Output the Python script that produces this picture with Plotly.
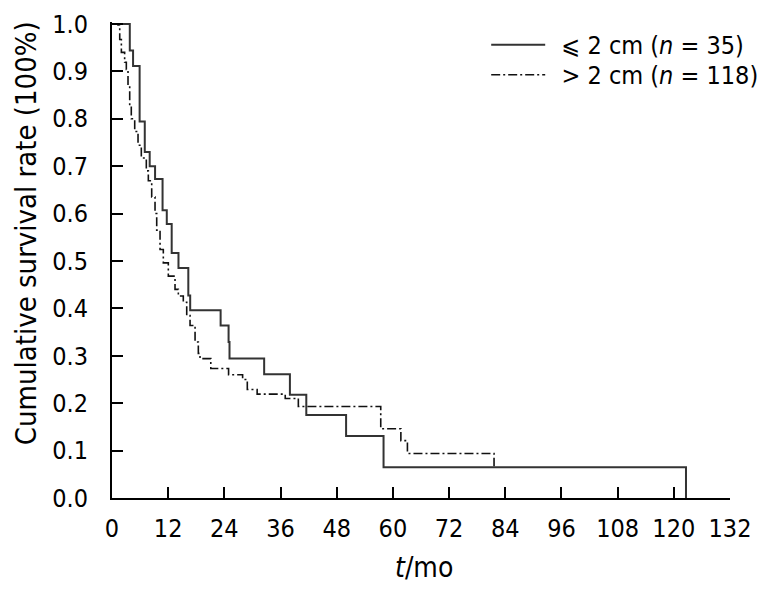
import plotly.graph_objects as go

# <= 2 cm group (n = 35): event times (months) and survival after each step
small_t = [0, 3.8, 4.5, 5.9, 7.0, 8.05, 9.2, 10.8, 11.7, 12.75, 14.2, 16.3, 16.7,
           23.2, 24.9, 25.1, 32.5, 38.0, 41.5, 50.0, 58.0, 122.6]
small_s = [1.0, 0.944, 0.911, 0.794, 0.73, 0.70, 0.673, 0.607, 0.578, 0.517, 0.485, 0.427, 0.396,
           0.364, 0.329, 0.294, 0.261, 0.218, 0.175, 0.131, 0.065, 0.0]

# > 2 cm group (n = 118)
large_t = [0, 1.28, 1.65, 2.0, 2.7, 3.06, 3.42, 3.78, 4.12, 4.85, 5.56, 6.26, 7.33, 7.76,
           8.48, 9.19, 9.55, 10.26, 10.96, 12.03, 13.46, 14.17, 15.23, 15.96, 16.67, 17.74,
           18.44, 18.8, 21.1, 24.9, 27.9, 28.9, 31.0, 37.0, 39.8, 57.4, 61.7, 63.1, 81.6]
large_s = [1.0, 0.998, 0.967, 0.94, 0.919, 0.904, 0.869, 0.828, 0.80, 0.773, 0.744, 0.717, 0.69, 0.669,
           0.635, 0.60, 0.565, 0.524, 0.496, 0.468, 0.44, 0.426, 0.413, 0.385, 0.364, 0.329,
           0.305, 0.294, 0.273, 0.26, 0.25, 0.229, 0.219, 0.21, 0.193, 0.146, 0.121, 0.094, 0.067]

x_ticks = list(range(0, 133, 12))
y_ticks = [i / 10 for i in range(11)]

FONT = 'DejaVu Sans Condensed, DejaVu Sans'

fig = go.Figure()
fig.add_trace(go.Scatter(x=small_t, y=small_s, mode='lines', line_shape='hv',
                         name='\u2002\u2a7d 2 cm (<i>n</i> = 35)', legend='legend',
                         line=dict(color='#333333', width=2)))
fig.add_trace(go.Scatter(x=large_t, y=large_s, mode='lines', line_shape='hv',
                         name='\u2002> 2 cm (<i>n</i> = 118)', legend='legend2',
                         line=dict(color='#111111', width=1.6, dash='9px,3px,2px,3px')))

axis_style = dict(showline=True, linecolor='black', linewidth=2, ticks='inside',
                  ticklen=11, tickwidth=2, tickcolor='black', showgrid=False,
                  zeroline=False, tickfont=dict(size=25, color='black'),
                  ticklabeloverflow='allow', automargin=False)

fig.update_xaxes(range=[0, 132], tickvals=x_ticks, ticklabelstandoff=7, **axis_style)
fig.update_yaxes(range=[0, 1.004], tickvals=y_ticks, tickformat='.1f', ticklabelstandoff=17,
                 **axis_style)

fig.add_annotation(text='Cumulative survival rate (100%)', textangle=-90,
                   xref='paper', yref='paper', x=-0.138, y=0.5557,
                   xanchor='center', yanchor='middle', showarrow=False,
                   font=dict(size=29, color='black'))
fig.add_annotation(text='<i>t</i>/mo', xref='paper', yref='paper', x=0.505, y=-0.147,
                   xanchor='center', yanchor='middle', showarrow=False,
                   font=dict(size=28, color='black'))

leg = dict(xanchor='left', yanchor='middle', itemwidth=54,
           bgcolor='rgba(0,0,0,0)', font=dict(size=25))
fig.update_layout(
    width=762, height=575, autosize=False,
    margin=dict(l=104, r=40, t=14, b=85, autoexpand=False),
    plot_bgcolor='white',
    paper_bgcolor='white',
    font=dict(family=FONT, color='black', size=25),
    showlegend=True,
    legend=dict(x=0.6055, y=0.9517, **leg),
    legend2=dict(x=0.6055, y=0.8887, **leg),
)
fig.write_html('out.html')
